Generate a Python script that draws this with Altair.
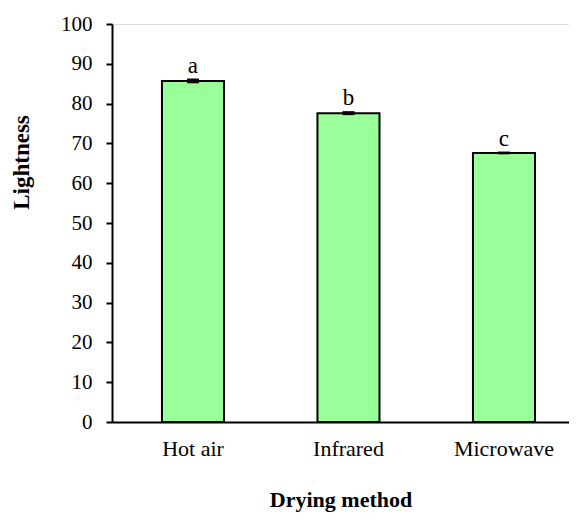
import altair as alt
import pandas as pd

methods = ["Hot air", "Infrared", "Microwave"]
lightness = [85.7, 77.6, 67.6]
errors = [0.6, 0.5, 0.35]
letters = ["a", "b", "c"]
y_ticks = list(range(0, 101, 10))

df = pd.DataFrame({
    "method": methods,
    "value": lightness,
    "lo": [v - e for v, e in zip(lightness, errors)],
    "hi": [v + e for v, e in zip(lightness, errors)],
    "letter": letters,
})

FONT = "Liberation Serif"

x_axis = alt.Axis(title="Drying method", labelAngle=0, ticks=False,
                  labelPadding=16, labelFontSize=22,
                  titleFontSize=22, titleFontWeight="bold",
                  titleBaseline="alphabetic", titleY=84,
                  labelFont=FONT, titleFont=FONT, labelColor="black",
                  titleColor="black", domainColor="black", domainWidth=2)
xscale = alt.Scale(paddingInner=0.601, paddingOuter=0.27, align=0.595)

y_axis = alt.Axis(title="Lightness", values=y_ticks,
                  labelOverlap=False, grid=False,
                  tickSize=6, tickWidth=2, tickColor="black", domainColor="black",
                  domainWidth=2, labelPadding=14, labelFontSize=21, titleFontSize=23,
                  titleFontWeight="bold", labelFont=FONT, titleFont=FONT,
                  labelColor="black", titleColor="black",
                  titleAngle=270, titleAlign="center",
                  titleBaseline="middle", titleX=-91, titleY=138)
yscale = alt.Scale(domain=[0, 100], nice=False)

X = alt.X("method:N", sort=methods, scale=xscale, axis=x_axis)

bars = alt.Chart(df).mark_bar(fill="#99FF99", stroke="black", strokeWidth=2).encode(
    x=X,
    y=alt.Y("value:Q", scale=yscale, axis=y_axis),
)

err = alt.Chart(df).mark_bar(color="black", width=12).encode(
    x=X,
    y=alt.Y("lo:Q", scale=yscale, axis=y_axis),
    y2="hi:Q",
)

text = alt.Chart(df).mark_text(font=FONT, fontSize=23, baseline="alphabetic", dy=-6,
                               color="black").encode(
    x=X,
    y=alt.Y("hi:Q", scale=yscale, axis=y_axis),
    text="letter:N",
)

chart = (bars + err + text).properties(
    width=457, height=398,
    autosize=alt.AutoSizeParams(type="none"),
    padding={"left": 104, "top": 16, "right": 0, "bottom": 94},
).configure_view(stroke=None).configure(background="white")

chart.save("out.html", embed_options={"renderer": "svg", "actions": False})
